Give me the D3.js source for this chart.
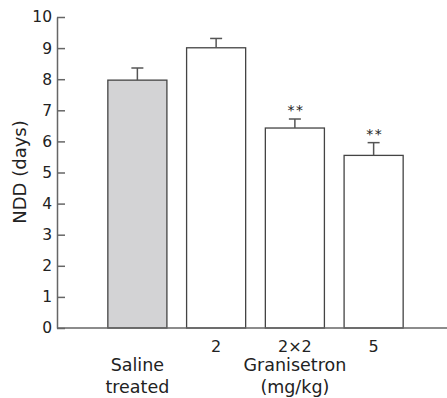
<!DOCTYPE html>
<html><head><meta charset="utf-8">
<script src="https://cdn.jsdelivr.net/npm/d3@7"></script>
<style>body{margin:0;background:#fff}svg{display:block}text{font-family:"DejaVu Sans","Noto Sans",sans-serif;fill:#222}</style>
</head><body><svg id="c" width="447" height="398"></svg>
<script>
const categories = ["saline", "2", "2x2", "5"];
const tickLabels = ["", "2", "2\u00d72", "5"];
const means = [7.97, 9.01, 6.43, 5.55];
const errors = [0.39, 0.30, 0.29, 0.41];
const signif = ["", "", "**", "**"];
const yTicks = [0,1,2,3,4,5,6,7,8,9,10];

const svg = d3.select("#c");
const x0 = 57, yBase = 328;
const y = d3.scaleLinear().domain([0,10]).range([328, 17]);
const x = d3.scaleBand().domain(categories).range([98, 413]).paddingInner(0.25).paddingOuter(0.125);

// bars
svg.selectAll("rect.bar").data(means).join("rect")
  .attr("x",(d,i)=>x(categories[i])).attr("width",x.bandwidth())
  .attr("y",d=>y(d)).attr("height",d=>y(0)-y(d))
  .attr("fill",(d,i)=>i===0?"#d3d3d5":"#fff").attr("stroke","#444").attr("stroke-width",1.3);

// error bars
const eg = svg.append("g").attr("stroke","#555").attr("stroke-width",1.5);
means.forEach((m,i)=>{
  const cx = x(categories[i]) + x.bandwidth()/2;
  eg.append("line").attr("x1",cx).attr("x2",cx).attr("y1",y(m)).attr("y2",y(m+errors[i]));
  eg.append("line").attr("x1",cx-6).attr("x2",cx+6).attr("y1",y(m+errors[i])).attr("y2",y(m+errors[i]));
  if (signif[i]) svg.append("text").attr("x",cx+1).attr("y",y(m+errors[i])-4).attr("text-anchor","middle")
     .attr("font-size",14).attr("letter-spacing","1.5").attr("fill","#444").text(signif[i]);
});

// axes
const axY = d3.axisLeft(y).tickValues(yTicks).tickSizeInner(-8).tickSizeOuter(0).tickPadding(5);
const gy = svg.append("g").attr("transform",`translate(${x0},0)`).call(axY);
gy.select(".domain").attr("stroke","#666").attr("stroke-width",1.5);
gy.selectAll(".tick line").attr("stroke","#666").attr("stroke-width",1.5);
gy.selectAll(".tick text").attr("font-size",15.5).attr("fill","#222").attr("font-family","DejaVu Sans");

svg.append("line").attr("x1",x0).attr("x2",447).attr("y1",yBase).attr("y2",yBase).attr("stroke","#666").attr("stroke-width",1.5);

// category labels
tickLabels.forEach((t,i)=>{
  if(!t) return;
  svg.append("text").attr("x",x(categories[i])+x.bandwidth()/2).attr("y",352).attr("text-anchor","middle").attr("font-size",16).text(t);
});
const sx = x("saline")+x.bandwidth()/2;
svg.append("text").attr("x",sx).attr("y",371).attr("text-anchor","middle").attr("font-size",17.5).text("Saline");
svg.append("text").attr("x",sx).attr("y",393).attr("text-anchor","middle").attr("font-size",17.5).text("treated");
const gx = x("2x2")+x.bandwidth()/2;
svg.append("text").attr("x",gx).attr("y",371).attr("text-anchor","middle").attr("font-size",17.5).text("Granisetron");
svg.append("text").attr("x",gx).attr("y",393).attr("text-anchor","middle").attr("font-size",17.5).text("(mg/kg)");

svg.append("text").attr("transform","translate(26,172) rotate(-90)").attr("text-anchor","middle").attr("font-size",18).text("NDD (days)");
</script></body></html>
